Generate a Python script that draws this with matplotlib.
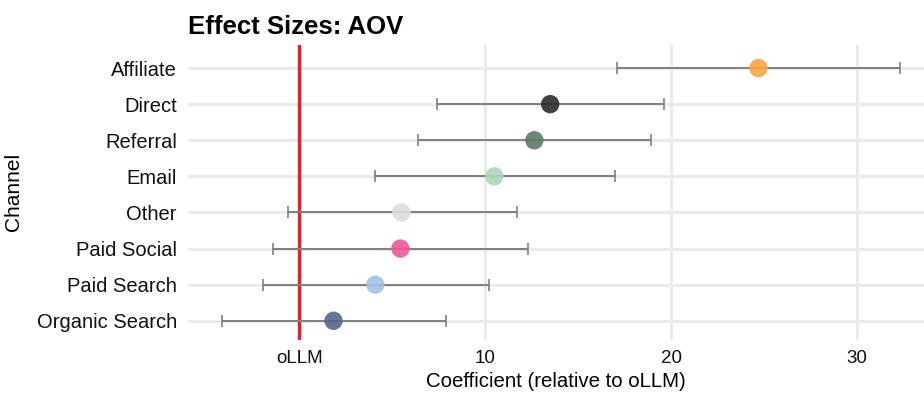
import matplotlib
matplotlib.use("Agg")
import matplotlib.pyplot as plt

plt.rcParams['font.family'] = ['Liberation Sans', 'DejaVu Sans']

channels = ["Organic Search", "Paid Search", "Paid Social", "Other",
            "Email", "Referral", "Direct", "Affiliate"]
estimates = [1.85, 4.1, 5.45, 5.5, 10.5, 12.65, 13.5, 24.7]
ci_low = [-4.15, -1.95, -1.4, -0.6, 4.1, 6.4, 7.4, 17.1]
ci_high = [7.9, 10.2, 12.3, 11.7, 17.0, 18.9, 19.6, 32.3]
colors = ["#55658f", "#9fc2e3", "#f0559a", "#dcdcdc",
          "#a9d6b7", "#5b7b66", "#2b2b2b", "#f9a443"]
xticks = [0, 10, 20, 30]
xticklabels = ["oLLM", "10", "20", "30"]

fig = plt.figure(figsize=(9.24, 3.98), dpi=100)
ax = fig.add_axes([0.2035, 0.146, 0.7965, 0.741])

ypos = list(range(len(channels)))

# grid
for y in ypos:
    ax.axhline(y, color="#ebebeb", lw=2.2, zorder=0)
for x in xticks:
    ax.axvline(x, color="#ebebeb", lw=2.2, zorder=0)

ax.axvline(0, color="#ee1c25", lw=2.4, zorder=1)

lo = [e - l for e, l in zip(estimates, ci_low)]
hi = [h - e for e, h in zip(estimates, ci_high)]
ax.errorbar(estimates, ypos, xerr=[lo, hi], fmt="none", ecolor="#808080",
            elinewidth=1.4, capsize=4.5, capthick=1.2, zorder=2)
ax.scatter(estimates, ypos, s=175, c=colors, alpha=0.9, edgecolors="none", zorder=3)

ax.set_xlim(-5.97, 33.6)
ax.set_ylim(-0.53, 7.64)
ax.set_yticks(ypos)
ax.set_yticklabels(channels, fontsize=14.5, color="#111111")
ax.set_xticks(xticks)
ax.set_xticklabels(xticklabels, fontsize=13.5, color="#111111")
ax.tick_params(axis="y", length=0, pad=8)
ax.tick_params(axis="x", length=0, pad=7)
for s in ax.spines.values():
    s.set_visible(False)

ax.set_xlabel("Coefficient (relative to oLLM)", fontsize=14.7, labelpad=4)
ax.set_ylabel("Channel", fontsize=15, labelpad=10)
ax.set_title("Effect Sizes: AOV", fontsize=18.5, fontweight="bold", loc="left", pad=8)

fig.savefig("out.png", dpi=100)
